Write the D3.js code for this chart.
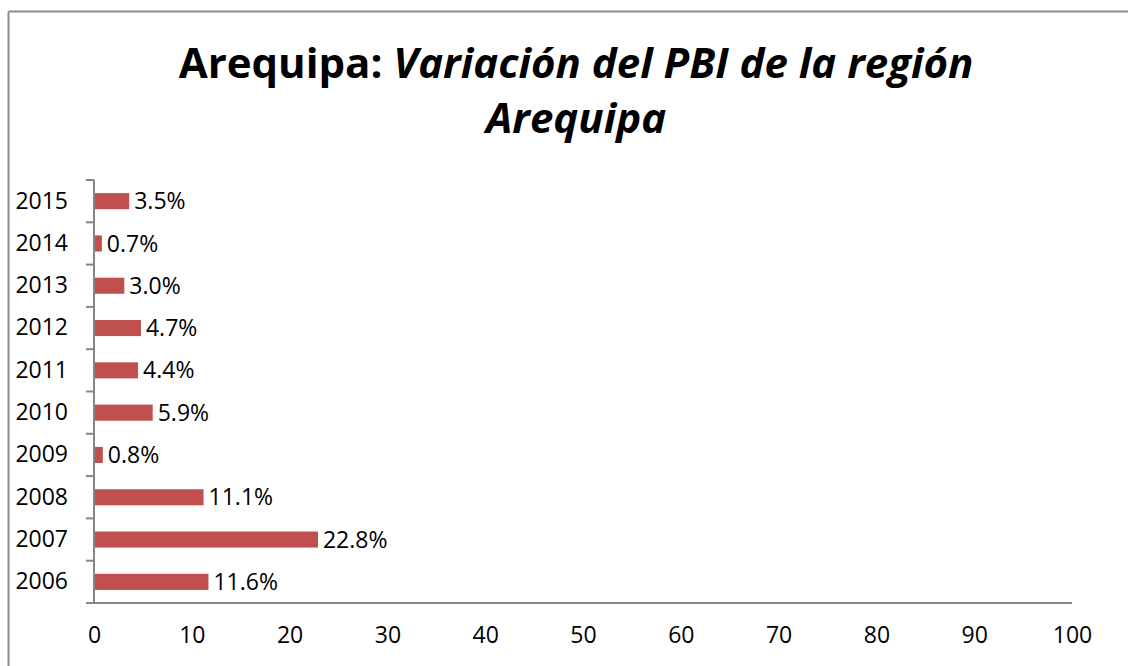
<!DOCTYPE html>
<html>
<head>
<meta charset="utf-8">
<script src="https://cdn.jsdelivr.net/npm/d3@7"></script>
<style>
  body { margin: 0; background: #fff; overflow: hidden; }
  svg { display: block; }
</style>
</head>
<body>
<div id="chart-area"></div>
<script>
// años (de arriba hacia abajo, como en el gráfico)
const years = ['2015', '2014', '2013', '2012', '2011', '2010', '2009', '2008', '2007', '2006'];
// variación del PBI en %
const values = [3.5, 0.7, 3.0, 4.7, 4.4, 5.9, 0.8, 11.1, 22.8, 11.6];
// marcas del eje X
const xTicks = [0, 10, 20, 30, 40, 50, 60, 70, 80, 90, 100];

const width = 1128;
const height = 666;
const margin = { top: 180, right: 56, bottom: 63, left: 94 };
const innerWidth = width - margin.left - margin.right;
const innerHeight = height - margin.top - margin.bottom;
const font = '"Open Sans", sans-serif';

const svg = d3.select('#chart-area').append('svg')
    .attr('width', width)
    .attr('height', height)
    .attr('font-family', font);

//marco del gráfico (izquierda y arriba)
svg.append('line')
    .attr('x1', 8.5).attr('x2', width)
    .attr('y1', 11.5).attr('y2', 11.5)
    .attr('stroke', '#8c8c8c')
    .attr('stroke-width', 2);
svg.append('line')
    .attr('x1', 8.5).attr('x2', 8.5)
    .attr('y1', 11.5).attr('y2', height)
    .attr('stroke', '#8c8c8c')
    .attr('stroke-width', 2);

//título
const title = svg.append('text')
    .attr('text-anchor', 'middle')
    .attr('font-size', 42)
    .attr('font-weight', 'bold')
    .attr('fill', '#000');
title.append('tspan')
    .attr('x', 576).attr('y', 78)
    .text('Arequipa: ');
title.append('tspan')
    .attr('font-style', 'italic')
    .text('Variación del PBI de la región');
title.append('tspan')
    .attr('x', 576).attr('y', 133)
    .attr('font-style', 'italic')
    .text('Arequipa');

const g = svg.append('g')
    .attr('transform', `translate(${margin.left}, ${margin.top})`);

const xScale = d3.scaleLinear()
    .domain([0, 100])
    .range([0, innerWidth]);

const yScale = d3.scaleBand()
    .domain(years)
    .range([0, innerHeight])
    .paddingInner(0.62)
    .paddingOuter(0.31);

const axisColor = '#868686';

//eje X
const xAxis = g.append('g')
    .attr('transform', `translate(0, ${innerHeight})`)
    .call(d3.axisBottom(xScale).tickValues(xTicks).tickSize(0).tickPadding(24))
    .attr('font-size', 23)
    .attr('font-family', font)
    .attr('fill', null);
xAxis.select('.domain').remove();
xAxis.selectAll('.tick line').remove();
xAxis.selectAll('text').attr('fill', '#000');

//eje Y con etiquetas de años
const yAxis = g.append('g')
    .call(d3.axisLeft(yScale).tickSize(0).tickPadding(26))
    .attr('font-size', 23)
    .attr('font-family', font)
    .attr('fill', null);
yAxis.select('.domain').remove();
yAxis.selectAll('.tick line').remove();
yAxis.selectAll('text').attr('fill', '#000');

//barras
g.selectAll('.bar')
    .data(years)
    .enter()
    .append('rect')
    .attr('class', 'bar')
    .attr('x', 1)
    .attr('y', d => yScale(d))
    .attr('width', (d, i) => xScale(values[i]))
    .attr('height', yScale.bandwidth())
    .attr('fill', '#c0504d');

//etiquetas de datos
g.selectAll('.label')
    .data(years)
    .enter()
    .append('text')
    .attr('class', 'label')
    .attr('x', (d, i) => xScale(values[i]) + 6)
    .attr('y', d => yScale(d) + yScale.bandwidth() / 2)
    .attr('dy', '0.35em')
    .attr('font-size', 23)
    .attr('fill', '#000')
    .text((d, i) => values[i].toFixed(1) + '%');

//línea del eje X
g.append('line')
    .attr('x1', -8).attr('x2', innerWidth)
    .attr('y1', innerHeight).attr('y2', innerHeight)
    .attr('stroke', axisColor)
    .attr('stroke-width', 2);

//línea del eje Y
g.append('line')
    .attr('x1', 0).attr('x2', 0)
    .attr('y1', 0).attr('y2', innerHeight)
    .attr('stroke', axisColor)
    .attr('stroke-width', 2);

//marcas entre categorías
const step = yScale.step();
g.selectAll('.ytick')
    .data(years)
    .enter()
    .append('line')
    .attr('class', 'ytick')
    .attr('x1', -8).attr('x2', 0)
    .attr('y1', d => yScale(d) - yScale.paddingOuter() * step)
    .attr('y2', d => yScale(d) - yScale.paddingOuter() * step)
    .attr('stroke', axisColor)
    .attr('stroke-width', 2);
</script>
</body>
</html>
